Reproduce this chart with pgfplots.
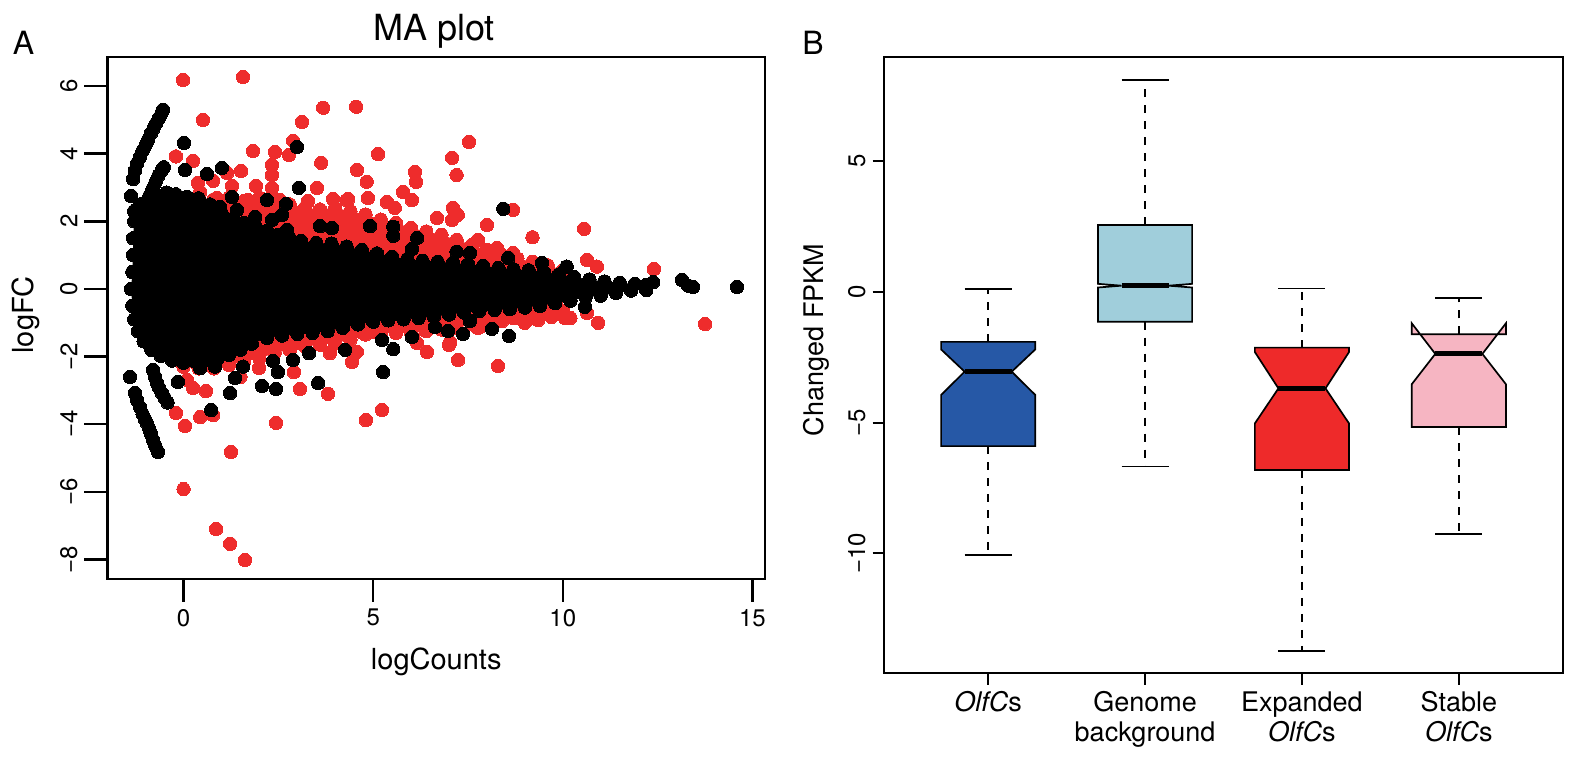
\documentclass[border=0pt]{standalone}
\usepackage{pgfplots}
\pgfplotsset{compat=1.18}
\usepackage{fontspec}
\setmainfont{TeX Gyre Heros}
\definecolor{maRed}{RGB}{238,44,44}
\definecolor{bxBlue}{RGB}{38,88,166}
\definecolor{bxLight}{RGB}{160,206,219}
\definecolor{bxRed}{RGB}{238,42,42}
\definecolor{bxPink}{RGB}{246,181,194}
\begin{document}
\begin{tikzpicture}
\path[use as bounding box] (0,0) rectangle (787pt,380pt);
% ---------------- Panel A ----------------
\begin{axis}[
 at={(53.75pt,90.5pt)}, anchor=south west,
 scale only axis, width=328.75pt, height=261pt,
 xmin=-2.004, xmax=15.33, ymin=-8.58, ymax=6.86,
 xtick={0,5,10,15}, xticklabels={0,5,10,15},
 ytick={-8,-6,-4,-2,0,2,4,6}, yticklabels={−8,−6,−4,−2,0,2,4,6},
 tick pos=left, tick align=outside, major tick length=11.5pt,
 every tick/.style={black, line width=1.2pt},
 axis line style={line width=1.2pt},
 ticklabel style={font=\fontsize{12}{14}\selectfont},
 yticklabel style={rotate=90, anchor=south},
 xlabel={logCounts}, ylabel={logFC},
 label style={font=\fontsize{14.5}{16}\selectfont},
 xlabel style={at={(axis description cs:0.5,-0.1743)}, anchor=base},
 ylabel style={at={(axis description cs:-0.1133,0.506)}, anchor=base},
 clip marker paths=true,
 /pgf/number format/assume math mode=true,
]
% dense red mass (behind black)
\addplot[draw=none, fill=maRed, color=maRed, mark=*, mark size=3.35pt, mark options={fill=maRed, draw=maRed, line width=0pt}] coordinates {
(0.0,2.55) (0.4,2.7) (0.8,2.65) (1.2,2.7) (1.6,2.6) (2.0,2.7) (2.4,2.6) (2.8,2.5) (3.2,2.4) (3.6,2.35) (4.0,2.4) (4.4,2.3) (4.8,2.2) (5.2,2.05) (5.6,1.95) (6.0,1.8) (6.4,1.7) (6.8,1.6) (7.2,1.45) (7.6,1.3) (8.0,1.15) (8.4,1.0) (8.8,0.9) (9.2,0.8) (9.6,0.7) (10.0,0.55)
(10.0,-0.65) (9.6,-0.75) (9.2,-0.8) (8.8,-0.85) (8.4,-0.95) (8.0,-1.0) (7.6,-1.05) (7.2,-1.15) (6.8,-1.2) (6.4,-1.25) (6.0,-1.3) (5.6,-1.3) (5.2,-1.3) (4.8,-1.35) (4.4,-1.5) (4.0,-1.6) (3.6,-1.65) (3.2,-1.7) (2.8,-1.8) (2.4,-1.9) (2.0,-2.05) (1.6,-2.15) (1.2,-2.25) (0.8,-2.35) (0.4,-2.35) (0.0,-2.3)
};
% red scattered points
\addplot[only marks, color=maRed, mark=*, mark size=3.35pt, mark options={fill=maRed, draw=maRed, line width=0pt}] coordinates {
(-0.01,6.18) (1.57,6.27) (0.51,5.0) (3.68,5.36) (4.55,5.39) (3.12,4.94) (2.89,4.38) (7.53,4.35) (1.83,4.08) (2.41,4.05) (2.78,3.96) (5.13,3.99) (7.08,3.88) (0.25,3.79) (3.63,3.73) (-0.2,3.92) (2.33,3.67) (4.57,3.52) (1.52,3.49) (2.33,3.37) (1.15,3.43) (7.2,3.37) (6.1,3.46) (4.83,3.17) (0.78,3.2) (0.38,3.14) (1.91,3.05) (2.33,2.99) (1.28,3.05) (3.52,2.99) (4.86,2.69) (3.28,2.6) (3.94,2.66) (4.34,2.66) (6.13,3.17) (5.79,2.87) (6.02,2.63) (5.36,2.57) (5.57,2.4) (7.1,2.4) (4.3,2.63) (6.68,2.1) (7.08,2.04) (8.0,1.89) (8.69,2.34) (9.2,1.53) (7.76,1.45) (10.56,1.78) (8.26,1.21) (8.69,1.06) (10.64,0.86) (10.9,0.66) (12.4,0.59) (7.23,2.19) (0.44,2.87) (0.88,2.69) (1.7,2.63) (2.54,2.63)
(13.75,-1.04) (10.93,-1.0) (10.06,-0.86) (10.2,-0.86) (10.64,-0.71) (9.7,-0.83) (9.35,-0.92) (7.03,-1.57) (7.82,-1.12) (6.05,-1.42) (-0.2,-3.67) (0.04,-4.05) (0.44,-3.79) (0.78,-3.73) (1.25,-4.82) (2.44,-3.96) (1.99,-2.34) (2.91,-2.46) (3.07,-2.96) (3.81,-3.1) (0.25,-2.93) (0.59,-3.02) (0.09,-2.69) (0.0,-5.92) (0.86,-7.1) (1.23,-7.54) (1.62,-8.02) (4.81,-3.88) (5.23,-3.58) (4.44,-2.16) (3.86,-1.9) (4.57,-1.86) (6.42,-1.86) (7.0,-1.66) (7.24,-2.1) (8.29,-2.28) (6.16,-1.6) (7.76,-1.15) (4.73,-1.3) (5.0,-1.27) (2.94,-1.6) (2.81,-1.8) (8.69,-0.86) (1.5,-2.6) (9.0,-1.0)
};
% dense black mass
\addplot[draw=none, fill=black, color=black, mark=*, mark size=3.35pt, mark options={fill=black, draw=black, line width=0pt}] coordinates {
(-1.30,2.30) (-1.15,2.50) (-0.95,2.62) (-0.70,2.78) (-0.45,2.85) (-0.20,2.80) (0.10,2.72) (0.40,2.68) (0.70,2.50) (1.00,2.25) (1.30,2.08) (1.60,1.95) (1.90,1.85) (2.20,1.72) (2.50,1.60) (2.80,1.50) (3.10,1.42) (3.50,1.36) (3.90,1.34) (4.30,1.25) (4.70,1.15) (5.10,1.05) (5.50,0.95) (5.90,0.88) (6.30,0.83) (6.70,0.80) (7.10,0.77) (7.50,0.73) (7.90,0.68) (8.30,0.62) (8.70,0.58) (9.10,0.55) (9.50,0.50) (9.90,0.43) (10.30,0.35) (10.70,0.28) (11.10,0.22) (11.50,0.18) (11.90,0.15) (12.20,0.12)
(12.20,-0.02) (11.80,-0.05) (11.40,-0.12) (11.00,-0.20) (10.60,-0.25) (10.20,-0.35) (9.80,-0.42) (9.40,-0.50) (9.00,-0.55) (8.60,-0.60) (8.20,-0.62) (7.80,-0.65) (7.40,-0.70) (7.00,-0.76) (6.60,-0.82) (6.20,-0.86) (5.80,-0.90) (5.40,-0.93) (5.00,-0.97) (4.60,-1.05) (4.20,-1.15) (3.80,-1.25) (3.40,-1.30) (3.00,-1.33) (2.60,-1.38) (2.20,-1.45) (1.80,-1.62) (1.50,-1.80) (1.20,-1.95) (0.90,-2.05) (0.60,-2.10) (0.30,-2.15) (0.00,-2.18) (-0.30,-2.12) (-0.60,-1.98) (-0.85,-1.80) (-1.05,-1.55) (-1.20,-1.25) (-1.30,-0.90) (-1.35,-0.50) (-1.38,0.00) (-1.35,0.50) (-1.33,1.00) (-1.33,1.50) (-1.30,2.00)
};
% black scattered points
\addplot[only marks, color=black, mark=*, mark size=3.35pt, mark options={fill=black, draw=black, line width=0pt}] coordinates {
(-1.38,2.75) (-0.9,2.75) (-0.82,2.95) (-0.74,3.15) (-0.66,3.35) (-0.58,3.5) (-0.52,3.6) (0.01,4.32) (2.99,4.2) (1.01,3.58) (0.04,3.52) (0.62,3.4) (3.04,2.99) (1.28,2.72) (2.2,2.63) (2.7,2.51) (0.96,2.43) (1.41,2.34) (1.89,2.13) (2.33,2.04) (2.6,2.19) (2.73,1.75) (3.6,1.86) (3.91,1.8) (4.92,1.86) (5.53,1.84) (5.53,1.57) (6.16,1.51) (6.02,1.18) (7.2,1.1) (7.55,1.06) (8.56,0.92) (9.45,0.77) (10.1,0.66) (8.43,2.37)
(12.38,0.2) (12.2,-0.03) (13.14,0.27) (13.43,0.06) (14.59,0.06) (13.3,0.1)
(1.36,-2.63) (1.57,-2.3) (1.23,-3.08) (2.07,-2.87) (2.44,-2.96) (2.49,-2.46) (2.89,-2.1) (2.36,-2.13) (3.31,-1.9) (3.55,-2.78) (4.26,-1.8) (5.23,-1.51) (5.53,-1.78) (5.26,-2.46) (6.02,-1.42) (6.97,-1.24) (7.37,-1.33) (8.13,-1.18) (8.58,-1.39) (6.63,-1.12) (7.55,-0.95) (0.73,-3.58) (0.44,-2.34) (0.83,-2.3) (-0.15,-2.75) (-0.8,-2.4) (10.58,-0.53) (-1.41,-2.6)
(-0.75,-2.6) (-0.7,-2.78) (-0.64,-2.93) (-0.57,-3.08) (-0.5,-3.22) (-0.42,-3.36)
(-1.28,-3.08) (-1.22,-3.3) (-1.15,-3.49) (-1.08,-3.7) (-1.02,-3.85) (-0.97,-3.96) (-0.9,-4.15) (-0.85,-4.3) (-0.8,-4.47) (-0.74,-4.65) (-0.67,-4.82)
(-1.33,3.25) (-1.28,3.5) (-1.22,3.72) (-1.15,3.9) (-1.08,4.08) (-1.0,4.25) (-0.93,4.42) (-0.86,4.6) (-0.79,4.75) (-0.72,4.9) (-0.65,5.05) (-0.58,5.2) (-0.54,5.3)
};
\end{axis}
% ---------------- Panel B ----------------
\begin{axis}[
 at={(442pt,43.5pt)}, anchor=south west,
 scale only axis, width=339.5pt, height=308pt,
 xmin=0.336, xmax=4.664, ymin=-14.58, ymax=8.99,
 xtick={1,2,3,4},
 xticklabels={{\textit{OlfC}s},{Genome\\background},{Expanded\\\textit{OlfC}s},{Stable\\\textit{OlfC}s}},
 ytick={-10,-5,0,5}, yticklabels={−10,−5,0,5},
 tick pos=left, tick align=outside, major tick length=5.75pt,
 every tick/.style={black, line width=0.9pt},
 axis line style={line width=0.9pt},
 ticklabel style={font=\fontsize{12}{14}\selectfont},
 xticklabel style={align=center, font=\fontsize{13.5}{15}\selectfont},
 yticklabel style={rotate=90, anchor=south},
 ylabel={Changed FPKM},
 label style={font=\fontsize{13.5}{15}\selectfont},
 ylabel style={at={(axis description cs:-0.0898,0.5406)}, anchor=base},
 /pgf/number format/assume math mode=true,
]
% whiskers (dashed)
\addplot[black, line width=0.9pt, dash pattern=on 4pt off 4pt] coordinates {(1,-1.91) (1,0.11)};
\addplot[black, line width=0.9pt, dash pattern=on 4pt off 4pt] coordinates {(1,-5.90) (1,-10.05)};
\addplot[black, line width=0.9pt, dash pattern=on 4pt off 4pt] coordinates {(2,2.56) (2,8.11)};
\addplot[black, line width=0.9pt, dash pattern=on 4pt off 4pt] coordinates {(2,-1.14) (2,-6.68)};
\addplot[black, line width=0.9pt, dash pattern=on 4pt off 4pt] coordinates {(3,-2.13) (3,0.13)};
\addplot[black, line width=0.9pt, dash pattern=on 4pt off 4pt] coordinates {(3,-6.81) (3,-13.73)};
\addplot[black, line width=0.9pt, dash pattern=on 4pt off 4pt] coordinates {(4,-1.62) (4,-0.24)};
\addplot[black, line width=0.9pt, dash pattern=on 4pt off 4pt] coordinates {(4,-5.17) (4,-9.26)};
% whisker caps
\addplot[black, line width=0.9pt] coordinates {(0.85,0.11) (1.15,0.11)};
\addplot[black, line width=0.9pt] coordinates {(0.85,-10.05) (1.15,-10.05)};
\addplot[black, line width=0.9pt] coordinates {(1.85,8.11) (2.15,8.11)};
\addplot[black, line width=0.9pt] coordinates {(1.85,-6.68) (2.15,-6.68)};
\addplot[black, line width=0.9pt] coordinates {(2.85,0.13) (3.15,0.13)};
\addplot[black, line width=0.9pt] coordinates {(2.85,-13.73) (3.15,-13.73)};
\addplot[black, line width=0.9pt] coordinates {(3.85,-0.24) (4.15,-0.24)};
\addplot[black, line width=0.9pt] coordinates {(3.85,-9.26) (4.15,-9.26)};
% notched boxes
\addplot[draw=black, line width=0.85pt, fill=bxBlue] coordinates {
(0.7,-5.90) (0.7,-3.94) (0.85,-3.05) (0.7,-2.20) (0.7,-1.91) (1.3,-1.91) (1.3,-2.20) (1.15,-3.05) (1.3,-3.94) (1.3,-5.90)} -- cycle;
\addplot[draw=black, line width=0.85pt, fill=bxLight] coordinates {
(1.7,-1.14) (1.7,0.17) (1.85,0.24) (1.7,0.31) (1.7,2.56) (2.3,2.56) (2.3,0.31) (2.15,0.24) (2.3,0.17) (2.3,-1.14)} -- cycle;
\addplot[draw=black, line width=0.85pt, fill=bxRed] coordinates {
(2.7,-6.81) (2.7,-5.03) (2.85,-3.69) (2.7,-2.30) (2.7,-2.13) (3.3,-2.13) (3.3,-2.30) (3.15,-3.69) (3.3,-5.03) (3.3,-6.81)} -- cycle;
\addplot[draw=black, line width=0.85pt, fill=bxPink] coordinates {
(3.7,-5.17) (3.7,-3.53) (3.85,-2.37) (3.7,-1.20) (3.7,-1.62) (4.3,-1.62) (4.3,-1.20) (4.15,-2.37) (4.3,-3.53) (4.3,-5.17)} -- cycle;
% medians
\addplot[black, line width=2.5pt] coordinates {(0.85,-3.05) (1.15,-3.05)};
\addplot[black, line width=2.5pt] coordinates {(1.85,0.24) (2.15,0.24)};
\addplot[black, line width=2.5pt] coordinates {(2.85,-3.69) (3.15,-3.69)};
\addplot[black, line width=2.5pt] coordinates {(3.85,-2.37) (4.15,-2.37)};
\end{axis}
% titles and panel letters
\node[anchor=base, font=\fontsize{18}{20}\selectfont] at (217pt,359.6pt) {MA plot};
\node[anchor=base west, inner sep=0pt, font=\fontsize{16}{18}\selectfont] at (6.25pt,352.5pt) {A};
\node[anchor=base west, inner sep=0pt, font=\fontsize{16}{18}\selectfont] at (401pt,352.5pt) {B};
\end{tikzpicture}
\end{document}
